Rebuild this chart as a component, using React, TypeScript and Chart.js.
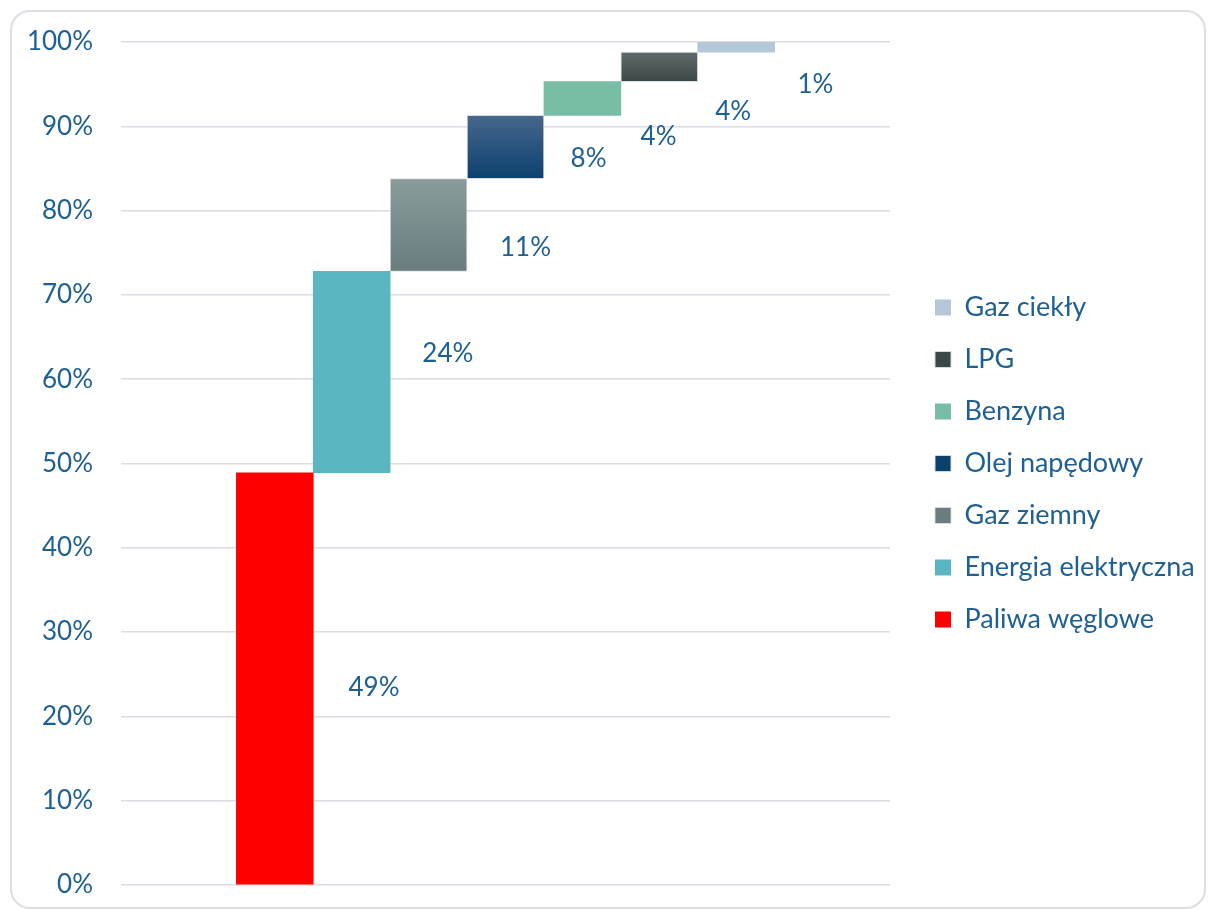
import React, { useEffect, useRef } from 'react';
import { Chart, registerables } from 'chart.js';

Chart.register(...registerables);

// ---- data ----
const categories = [
  'Paliwa węglowe',
  'Energia elektryczna',
  'Gaz ziemny',
  'Olej napędowy',
  'Benzyna',
  'LPG',
  'Gaz ciekły',
];
const shares = [48.9, 23.9, 11.0, 7.5, 4.0, 3.5, 1.2];
const shareLabels = ['49%', '24%', '11%', '8%', '4%', '4%', '1%'];
const yTicks = [0, 10, 20, 30, 40, 50, 60, 70, 80, 90, 100];

// ---- styles ----
const TEXT = '#1F6094';
const FONT = 'Lato, "Open Sans", sans-serif';
const FONT_SIZE = 26;
const LEGEND_FONT_SIZE = 27;
const FILLS: [string, string][] = [
  ['#FF0000', '#FF0000'],
  ['#5AB6C0', '#5AB6C0'],
  ['#899B9B', '#6A7C7D'],
  ['#47678C', '#0C416E'],
  ['#77BEA5', '#77BEA5'],
  ['#616B6B', '#3C4747'],
  ['#B3C7D9', '#B3C7D9'],
];
const EDGED = [false, false, true, true, false, true, false];
// label anchor positions (x in category units, y in % units)
const LABEL_ANCHORS: [number, number][] = [
  [1.29, 23.4],
  [2.25, 63.0],
  [3.26, 75.6],
  [4.08, 86.2],
  [4.99, 88.8],
  [5.96, 91.7],
  [7.03, 94.9],
];
const LEGEND_SHIFT = 20;

const shareLabelPlugin = {
  id: 'shareLabels',
  afterLayout(chart: any) {
    const lg = chart.legend;
    if (lg) {
      lg.left += LEGEND_SHIFT;
      lg.right = chart.width;
      lg.width = lg.right - lg.left;
    }
  },
  afterDatasetsDraw(chart: any) {
    const { ctx, scales } = chart;
    const x = scales.x;
    const y = scales.y;
    ctx.save();
    ctx.font = `${FONT_SIZE}px ${FONT}`;
    ctx.fillStyle = TEXT;
    ctx.textAlign = 'center';
    ctx.textBaseline = 'middle';
    LABEL_ANCHORS.forEach(([ax, ay], i) => {
      ctx.fillText(shareLabels[i], x.getPixelForValue(ax), y.getPixelForValue(ay));
    });
    ctx.restore();
  },
};

export default function App() {
  const canvasRef = useRef<HTMLCanvasElement | null>(null);

  useEffect(() => {
    const canvas = canvasRef.current;
    if (!canvas) return;

    let cum = 0;
    const datasets = categories.map((name, i) => {
      const start = cum;
      const end = cum + shares[i];
      cum = end;
      const [top, bottom] = FILLS[i];
      return {
        label: name,
        data: [{ x: i, y: [start, end] }],
        grouped: false,
        barPercentage: 1,
        categoryPercentage: 1,
        borderWidth: EDGED[i] ? 1 : 0,
        borderColor: 'rgba(214,220,226,0.95)',
        borderSkipped: false,
        backgroundColor: (c: any) => {
          if (top === bottom) return top;
          const yScale = c.chart?.scales?.y;
          const raw = c.raw;
          if (!yScale || !raw || c.type !== 'data') return bottom;
          const y0 = yScale.getPixelForValue(raw.y[1]);
          const y1 = yScale.getPixelForValue(raw.y[0]);
          if (!isFinite(y0) || !isFinite(y1) || y0 === y1) return bottom;
          const g = c.chart.ctx.createLinearGradient(0, y0, 0, y1);
          g.addColorStop(0, top);
          g.addColorStop(1, bottom);
          return g;
        },
      };
    });

    const chart = new Chart(canvas, {
      type: 'bar',
      data: { datasets },
      plugins: [shareLabelPlugin],
      options: {
        animation: false,
        responsive: false,
        maintainAspectRatio: false,
        layout: { padding: { top: 30, bottom: 22, left: 1, right: 34 } },
        scales: {
          x: {
            type: 'linear',
            min: -2,
            max: 8,
            offset: false,
            display: false,
            ticks: { stepSize: 1 },
          },
          y: {
            type: 'linear',
            min: 0,
            max: 100,
            afterBuildTicks: (s: any) => {
              s.ticks = yTicks.map((v) => ({ value: v }));
            },
            afterFit: (s: any) => {
              s.width = 108;
            },
            grid: {
              color: '#DCDCE4',
              lineWidth: 1.5,
              drawTicks: true,
              tickLength: 28,
              tickColor: 'rgba(0,0,0,0)',
            },
            border: { display: false },
            ticks: {
              padding: 0,
              color: TEXT,
              font: { family: FONT, size: FONT_SIZE },
              callback: (v: any) => `${v}%`,
            },
          },
        },
        plugins: {
          tooltip: { enabled: false },
          legend: {
            position: 'right',
            reverse: true,
            maxWidth: 280,
            labels: {
              boxWidth: 16,
              boxHeight: 16,
              padding: 25,
              color: TEXT,
              font: { family: FONT, size: LEGEND_FONT_SIZE },
            },
          },
        },
      } as any,
    });

    return () => chart.destroy();
  }, []);

  return (
    <div
      style={{
        position: 'absolute',
        left: 10,
        top: 10,
        width: 1196,
        height: 899,
        border: '2px solid #DEDDE6',
        borderRadius: 20,
        boxSizing: 'border-box',
        overflow: 'hidden',
        background: '#FFFFFF',
      }}
    >
      <canvas ref={canvasRef} width={1192} height={895} style={{ display: 'block' }} />
    </div>
  );
}
